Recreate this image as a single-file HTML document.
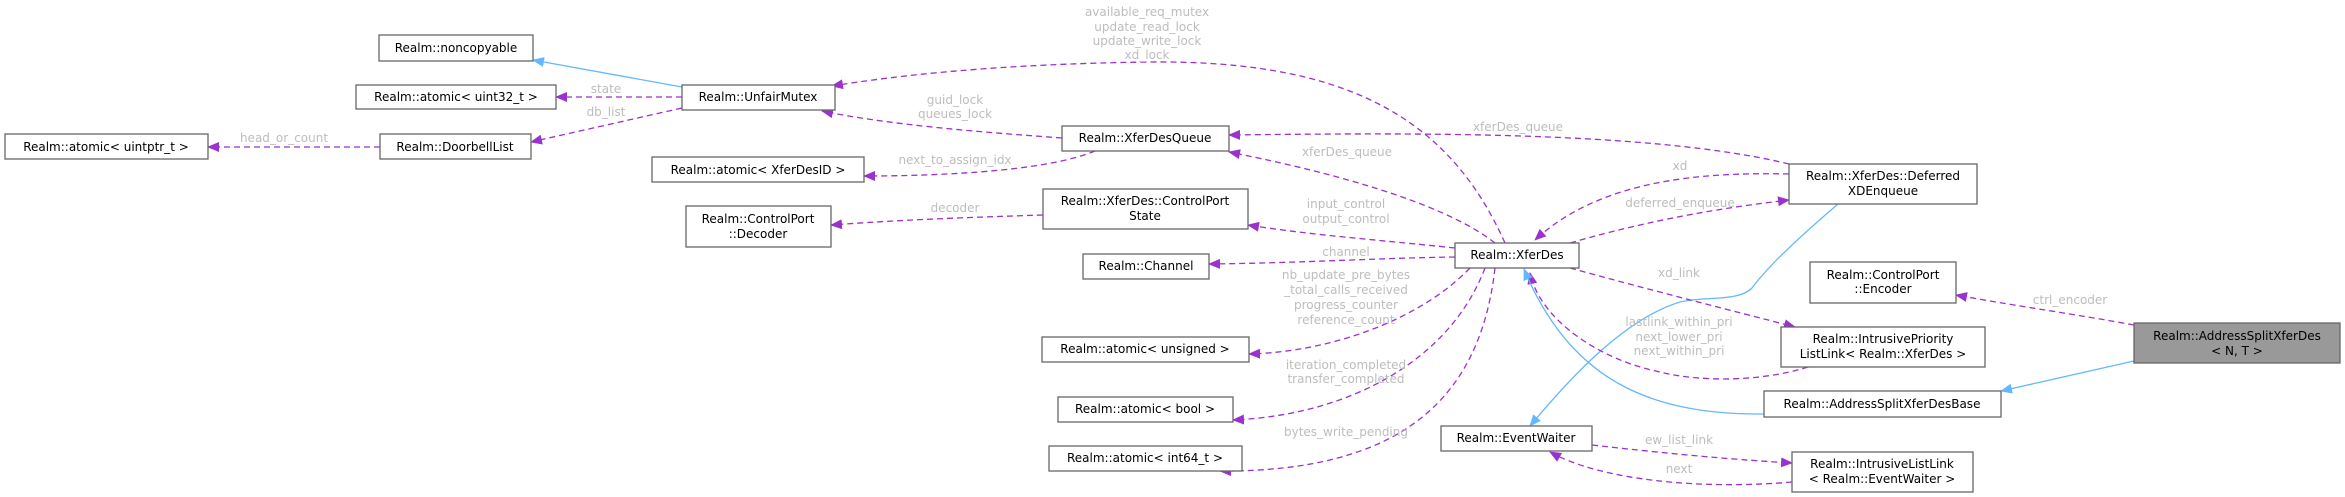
<!DOCTYPE html>
<html><head><meta charset="utf-8"><style>
html,body{margin:0;padding:0;background:#fff;}
svg{display:block;}
.b{fill:#fff;stroke:#666;stroke-width:1.3;}
.t{font-family:"DejaVu Sans","Liberation Sans",sans-serif;font-size:12px;fill:#000;text-anchor:middle;dominant-baseline:central;}
.l{font-family:"DejaVu Sans","Liberation Sans",sans-serif;font-size:12px;fill:#bdbdbd;text-anchor:middle;dominant-baseline:central;}
.d{fill:none;stroke:#9a32cd;stroke-width:1.3;stroke-dasharray:6,4;marker-end:url(#ap);}
.i{fill:none;stroke:#63b8ff;stroke-width:1.3;marker-end:url(#ab);}
</style></head><body>
<svg width="2345" height="497" viewBox="0 0 2345 497" xmlns="http://www.w3.org/2000/svg">
<defs>
<marker id="ap" markerUnits="userSpaceOnUse" markerWidth="12" markerHeight="10" refX="11" refY="5" orient="auto"><path d="M0,0 L12,5 L0,10 z" fill="#9a32cd"/></marker>
<marker id="ab" markerUnits="userSpaceOnUse" markerWidth="12" markerHeight="10" refX="11" refY="5" orient="auto"><path d="M0,0 L12,5 L0,10 z" fill="#63b8ff"/></marker>
</defs>

<path class="i" d="M682,87 L533,60"/>
<path class="d" d="M682,97 L556,97"/>
<path class="d" d="M682,108 L531,142"/>
<path class="d" d="M380,147 L208,147"/>
<path class="d" d="M1062,138 C980,132 890,125 822,111"/>
<path class="d" d="M1095,151 C1050,170 950,176 864,176"/>
<path class="d" d="M1505,243 C1450,120 1350,60 1150,62 C1000,64 900,75 832,86"/>
<path class="d" d="M1789,164 C1650,130 1400,133 1229,135"/>
<path class="d" d="M1495,243 C1440,200 1320,170 1229,152"/>
<path class="d" d="M1043,215 C950,218 900,220 831,225"/>
<path class="d" d="M1455,248 C1380,240 1310,235 1248,225"/>
<path class="d" d="M1455,257 C1380,258 1300,263 1209,264"/>
<path class="d" d="M1470,268 C1420,320 1330,352 1249,354"/>
<path class="d" d="M1485,268 C1450,360 1350,415 1233,420"/>
<path class="d" d="M1495,268 C1480,400 1400,472 1220,471"/>
<path class="d" d="M1789,174 C1700,172 1600,180 1535,240"/>
<path class="d" d="M1570,243 C1650,220 1720,208 1789,200"/>
<path class="i" d="M1838,204 C1790,245 1765,270 1752,288 C1738,302 1705,296 1680,302 C1620,320 1560,390 1530,426"/>
<path class="d" d="M1570,268 C1650,290 1730,310 1795,327"/>
<path class="d" d="M1808,367 C1760,382 1700,382 1660,372 C1600,360 1540,320 1530,273"/>
<path class="i" d="M1764,414 C1650,415 1570,380 1524,269"/>
<path class="d" d="M2134,325 C2080,315 2010,305 1956,295"/>
<path class="i" d="M2134,361 L2001,391"/>
<path class="d" d="M1592,445 C1680,455 1740,460 1792,463"/>
<path class="d" d="M1792,482 C1700,490 1600,480 1550,452"/>

<text class="l" x="606" y="89">state</text>
<text class="l" x="606" y="112">db_list</text>
<text class="l" x="284" y="138">head_or_count</text>
<text class="l" x="1147" y="12">available_req_mutex</text>
<text class="l" x="1147" y="27">update_read_lock</text>
<text class="l" x="1147" y="41">update_write_lock</text>
<text class="l" x="1147" y="55">xd_lock</text>
<text class="l" x="955" y="100">guid_lock</text>
<text class="l" x="955" y="114">queues_lock</text>
<text class="l" x="955" y="160">next_to_assign_idx</text>
<text class="l" x="955" y="208">decoder</text>
<text class="l" x="1518" y="127">xferDes_queue</text>
<text class="l" x="1347" y="152">xferDes_queue</text>
<text class="l" x="1346" y="204">input_control</text>
<text class="l" x="1346" y="219">output_control</text>
<text class="l" x="1346" y="252">channel</text>
<text class="l" x="1346" y="275">nb_update_pre_bytes</text>
<text class="l" x="1346" y="290">_total_calls_received</text>
<text class="l" x="1346" y="305">progress_counter</text>
<text class="l" x="1346" y="320">reference_count</text>
<text class="l" x="1346" y="365">iteration_completed</text>
<text class="l" x="1346" y="379">transfer_completed</text>
<text class="l" x="1346" y="432">bytes_write_pending</text>
<text class="l" x="1680" y="166">xd</text>
<text class="l" x="1680" y="203">deferred_enqueue</text>
<text class="l" x="1679" y="273">xd_link</text>
<text class="l" x="1679" y="322">lastlink_within_pri</text>
<text class="l" x="1679" y="337">next_lower_pri</text>
<text class="l" x="1679" y="351">next_within_pri</text>
<text class="l" x="2070" y="300">ctrl_encoder</text>
<text class="l" x="1679" y="440">ew_list_link</text>
<text class="l" x="1679" y="469">next</text>

<rect class="b" x="379" y="35" width="154" height="26"/><text class="t" x="456" y="48">Realm::noncopyable</text>
<rect class="b" x="356" y="85" width="200" height="24"/><text class="t" x="456" y="97">Realm::atomic&lt; uint32_t &gt;</text>
<rect class="b" x="682" y="85" width="153" height="25"/><text class="t" x="758" y="97">Realm::UnfairMutex</text>
<rect class="b" x="5" y="134" width="203" height="25"/><text class="t" x="106" y="147">Realm::atomic&lt; uintptr_t &gt;</text>
<rect class="b" x="380" y="134" width="151" height="25"/><text class="t" x="455" y="147">Realm::DoorbellList</text>
<rect class="b" x="652" y="157" width="212" height="25"/><text class="t" x="758" y="170">Realm::atomic&lt; XferDesID &gt;</text>
<rect class="b" x="686" y="206" width="145" height="41"/><text class="t" x="758" y="219">Realm::ControlPort</text><text class="t" x="758" y="234">::Decoder</text>
<rect class="b" x="1062" y="126" width="167" height="25"/><text class="t" x="1145" y="138">Realm::XferDesQueue</text>
<rect class="b" x="1043" y="189" width="205" height="40"/><text class="t" x="1145" y="201">Realm::XferDes::ControlPort</text><text class="t" x="1145" y="216">State</text>
<rect class="b" x="1083" y="254" width="126" height="25"/><text class="t" x="1146" y="266">Realm::Channel</text>
<rect class="b" x="1042" y="337" width="207" height="25"/><text class="t" x="1145" y="349">Realm::atomic&lt; unsigned &gt;</text>
<rect class="b" x="1058" y="397" width="175" height="25"/><text class="t" x="1145" y="409">Realm::atomic&lt; bool &gt;</text>
<rect class="b" x="1049" y="446" width="193" height="25"/><text class="t" x="1145" y="458">Realm::atomic&lt; int64_t &gt;</text>
<rect class="b" x="1455" y="243" width="124" height="25"/><text class="t" x="1517" y="255">Realm::XferDes</text>
<rect class="b" x="1789" y="164" width="188" height="40"/><text class="t" x="1883" y="176">Realm::XferDes::Deferred</text><text class="t" x="1883" y="191">XDEnqueue</text>
<rect class="b" x="1810" y="262" width="146" height="41"/><text class="t" x="1883" y="275">Realm::ControlPort</text><text class="t" x="1883" y="289">::Encoder</text>
<rect class="b" x="1781" y="327" width="204" height="40"/><text class="t" x="1883" y="339">Realm::IntrusivePriority</text><text class="t" x="1883" y="354">ListLink&lt; Realm::XferDes &gt;</text>
<rect class="b" x="1764" y="391" width="237" height="26"/><text class="t" x="1882" y="404">Realm::AddressSplitXferDesBase</text>
<rect class="b" x="1441" y="426" width="151" height="25"/><text class="t" x="1516" y="438">Realm::EventWaiter</text>
<rect class="b" x="1792" y="452" width="181" height="40"/><text class="t" x="1882" y="464">Realm::IntrusiveListLink</text><text class="t" x="1882" y="479">&lt; Realm::EventWaiter &gt;</text>
<rect x="2134" y="323" width="206" height="40" fill="#999" stroke="#666" stroke-width="1.3"/><text class="t" x="2237" y="336">Realm::AddressSplitXferDes</text><text class="t" x="2237" y="351">&lt; N, T &gt;</text>
</svg>
</body></html>
